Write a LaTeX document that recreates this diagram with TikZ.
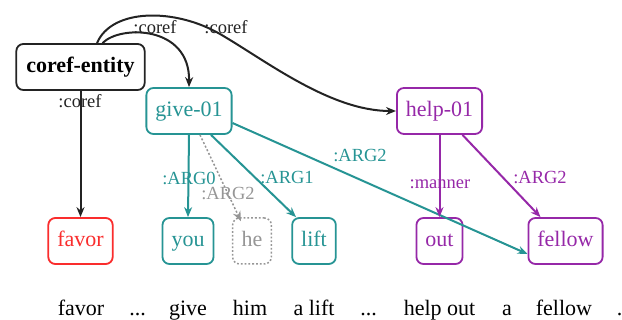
\documentclass[tikz,border=0pt]{standalone}
\usepackage{fontspec}
\setmainfont{Liberation Serif}
\newfontfamily\timesfam{Liberation Serif}
\usetikzlibrary{arrows.meta}
\definecolor{tealc}{RGB}{38,148,148}
\definecolor{purpc}{RGB}{150,40,168}
\definecolor{redc}{RGB}{250,45,45}
\definecolor{grayc}{RGB}{150,150,150}
\definecolor{darkc}{RGB}{35,35,35}
\tikzset{
  concept/.style={draw, line width=1.8pt, rounded corners=7pt, inner xsep=9pt,
    minimum height=46pt, text height=16pt, text depth=4pt,
    font=\timesfam\fontsize{22}{26}\selectfont, fill=white},
  word/.style={anchor=base, font=\timesfam\fontsize{22}{26}\selectfont, inner sep=0pt},
  rel/.style={font=\timesfam\fontsize{18.5}{22}\selectfont, inner sep=0pt},
  link/.style={line width=2pt, -{Stealth[length=10pt,width=8pt]}},
}
\begin{document}
\begin{tikzpicture}[x=1pt,y=-1pt]
\useasboundingbox (0,0) rectangle (622,320);

% concept nodes
\node[concept, draw=darkc, inner xsep=10pt, font=\timesfam\fontsize{22}{26}\selectfont\bfseries] (ent) at (80.5,67) {coref-entity};
\node[concept, draw=tealc, text=tealc] (give) at (189,111) {give-01};
\node[concept, draw=purpc, text=purpc] (help) at (439.5,111) {help-01};
\node[concept, draw=redc, text=redc] (favor) at (80.5,241) {favor};
\node[concept, draw=tealc, text=tealc] (you) at (188,241) {you};
\node[concept, draw=grayc, text=grayc, dotted, line width=1.5pt] (he) at (252,241) {he};
\node[concept, draw=tealc, text=tealc] (lift) at (314,241) {lift};
\node[concept, draw=purpc, text=purpc] (out) at (439.5,241) {out};
\node[concept, draw=purpc, text=purpc] (fellow) at (565.5,241) {fellow};

% sentence
\node[word] (w1) at (81,316) {favor};
\node[word] (w2) at (137.5,316) {...};
\node[word] (w3) at (188,316) {give};
\node[word] (w4) at (250,316) {him};
\node[word] (w5) at (314,316) {a lift};
\node[word] (w6) at (368.5,316) {...};
\node[word] (w7) at (439.5,316) {help out};
\node[word] (w8) at (507,316) {a};
\node[word] (w9) at (564,316) {fellow};
\node[word] (w10) at (619.5,316) {.};

% coreference links
\draw[link, draw=darkc, fill=darkc] (ent.south) -- (favor.north);
\draw[link, draw=darkc] ([xshift=22pt]ent.north) .. controls (120,25) and (190,25) .. (give.north);
\draw[link, draw=darkc] ([xshift=16.5pt]ent.north) .. controls (112,8) and (175,8) .. (220,34)
  .. controls (265,60) and (330,111) .. (help.west);

% give-01 links
\draw[link, draw=tealc] (give.south) -- (you.north);
\draw[link, draw=grayc, dotted, line width=1.5pt] ([xshift=11pt]give.south) -- ([xshift=-11pt,yshift=-4pt]he.north);
\draw[link, draw=tealc] ([xshift=22pt]give.south) -- ([xshift=-18pt]lift.north);
\draw[link, draw=tealc] ([yshift=-12pt]give.east) -- ([yshift=-13pt]fellow.west);

% help-01 links
\draw[link, draw=purpc] (help.south) -- (out.north);
\draw[link, draw=purpc] ([xshift=23pt]help.south) -- ([xshift=-25pt]fellow.north);

% relation labels
\node[rel, text=darkc] (l1) at (80,101) {:coref};
\node[rel, text=darkc] (l2) at (155,27) {:coref};
\node[rel, text=darkc] (l3) at (226,27) {:coref};
\node[rel, text=tealc] (l4) at (189,178) {:ARG0};
\node[rel, text=grayc] (l5) at (228,194) {:ARG2};
\node[rel, text=tealc] (l6) at (287,178) {:ARG1};
\node[rel, text=tealc] (l7) at (360,156) {:ARG2};
\node[rel, text=purpc] (l8) at (440,184) {:manner};
\node[rel, text=purpc] (l9) at (540,178) {:ARG2};
\end{tikzpicture}
\end{document}
